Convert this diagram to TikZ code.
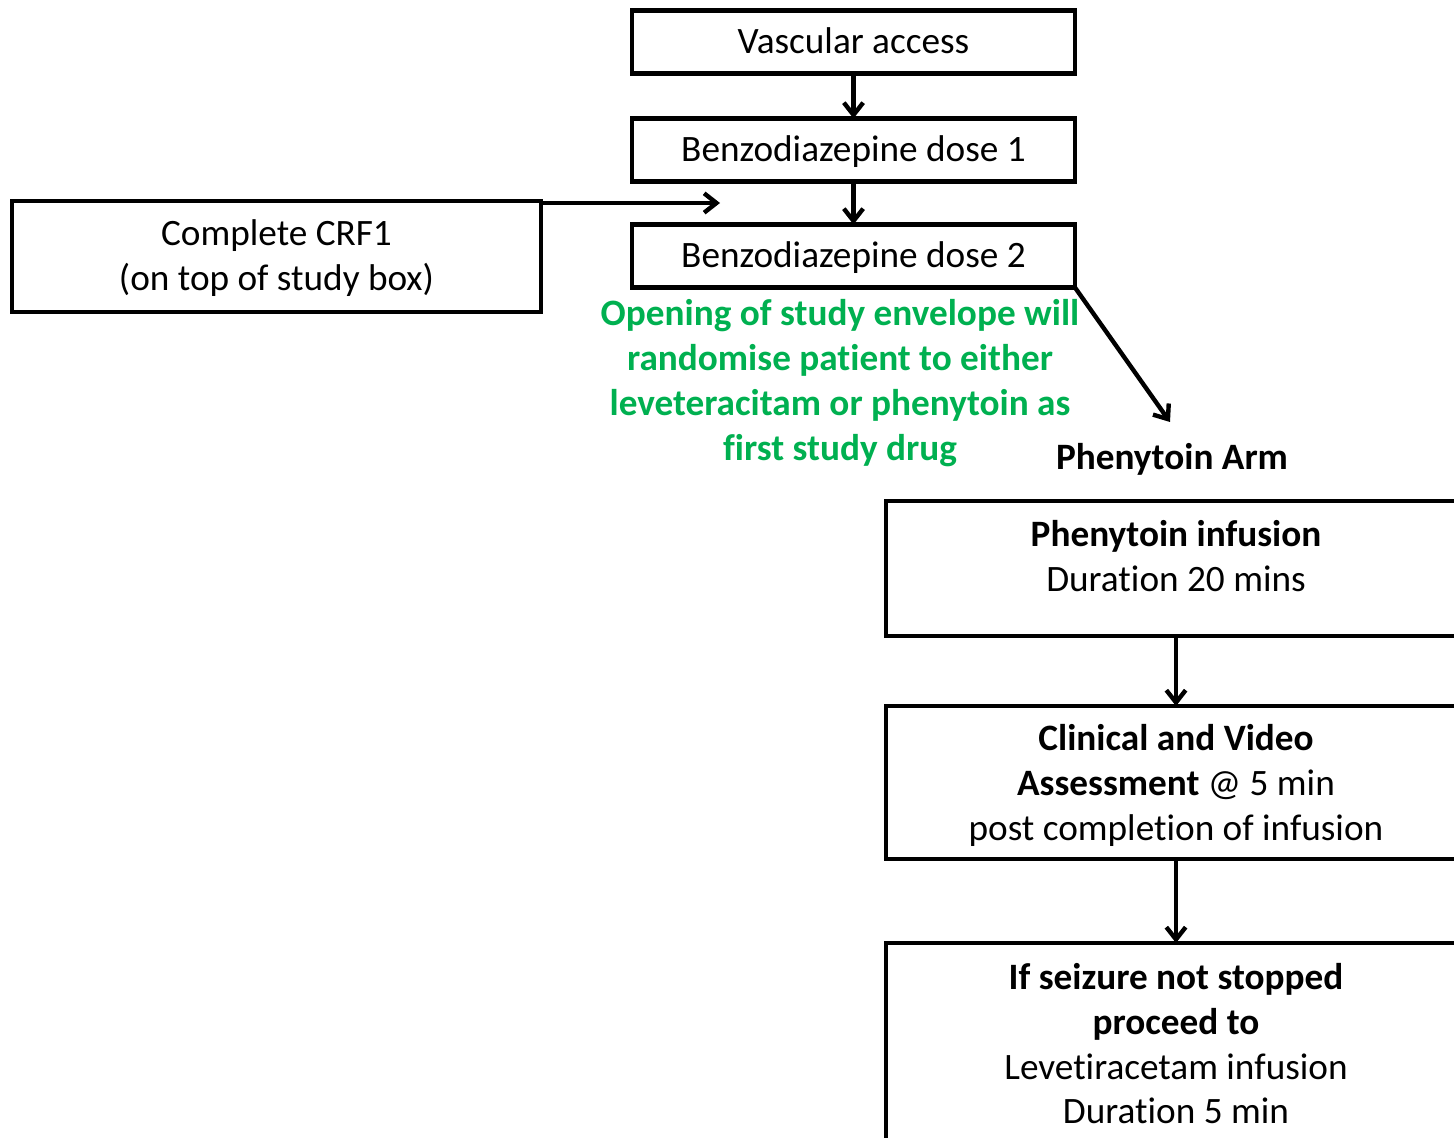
\documentclass[tikz,border=0pt]{standalone}
\usepackage{fontspec}
\setmainfont{Carlito}[Ligatures=NoCommon]
\usetikzlibrary{arrows.meta}
\definecolor{envGreen}{RGB}{0,176,80}

\begin{document}
\begin{tikzpicture}
[x=0.02cm, y=-0.02cm,%
  lineDecorate/.style={-{Straight Barb[length=7pt,width=11pt,line width=2.5pt]}, line width=2.5pt},%
  nodeDecorate/.style={shape=rectangle, draw, line width=2.6pt, align=center, inner sep=0pt, outer sep=0pt}]
\fontsize{21.2}{25.5}\selectfont
\useasboundingbox (0,0) rectangle (1454,1138);
\clip (0,0) rectangle (1454,1138);
%% top boxes
\foreach \nodename/\y/\txt in {vasc/42/Vascular access, bzOne/150/Benzodiazepine dose 1, bzTwo/256/Benzodiazepine dose 2}
{
  \node (\nodename) at (853.5,\y) [nodeDecorate, minimum width=8.86cm, minimum height=1.26cm, text depth=2pt] {\txt};
}
\node (crf) at (276.5,256.5) [nodeDecorate, minimum width=10.58cm, minimum height=2.22cm, text depth=1.5pt] {Complete CRF1\\(on top of study box)};
\node (envelope) at (840,383) [align=center, text=envGreen, font=\bfseries] {Opening of study envelope will\\randomise patient to either\\leveteracitam or phenytoin as\\first study drug};
\node (arm) at (1172,459) [font=\bfseries] {Phenytoin Arm};
%% phenytoin arm boxes
\node (phInf) at (1176,568.5) [nodeDecorate, minimum width=11.6cm, minimum height=2.7cm, text depth=14pt] {\textbf{Phenytoin infusion}\\Duration 20 mins};
\node (clin) at (1176,782.5) [nodeDecorate, minimum width=11.6cm, minimum height=3.06cm, text depth=0pt] {\textbf{Clinical and Video}\\\textbf{Assessment} @ 5 min\\post completion of infusion};
\node (proceed) at (1176,943) [nodeDecorate, anchor=north, minimum width=11.6cm, minimum height=4.8cm, text depth=22pt] {\textbf{If seizure not stopped}\\\textbf{proceed to}\\Levetiracetam infusion\\Duration 5 min};
%% edges or lines
\coordinate (crfEnd) at (720,203);
\coordinate (armTip) at (1170,422);
\path
\foreach \startnode/\endnode in {vasc/bzOne, bzOne/bzTwo, phInf/clin, clin/proceed}
{
  (\startnode) edge[lineDecorate] (\endnode)
};
\draw[lineDecorate] (crf.east |- crfEnd) -- (crfEnd);
\draw[lineDecorate] (bzTwo.south east) -- (armTip);
\end{tikzpicture}
\end{document}
